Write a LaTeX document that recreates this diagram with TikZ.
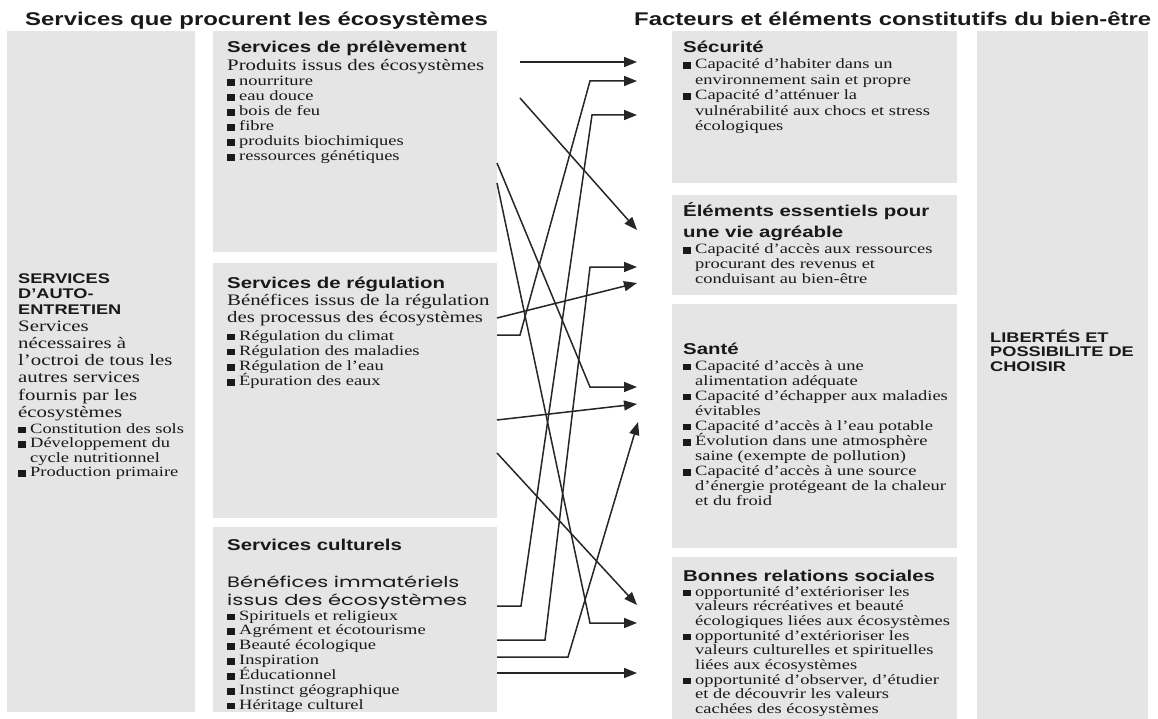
\documentclass[tikz,border=0pt]{standalone}
\usepackage{fontspec}
\setmainfont{Liberation Serif}[FakeStretch=1.3]
\newfontfamily\sansgras{Liberation Sans}[FakeStretch=1.3]
\newfontfamily\comique{Poppins}[FakeStretch=1.4]
\usetikzlibrary{arrows.meta}

\newcommand\fgrand{\sansgras\bfseries\fontsize{18.4}{20}\selectfont}
\newcommand\ftitre{\sansgras\bfseries\fontsize{15.7}{18}\selectfont}
\newcommand\fcaps{\sansgras\bfseries\fontsize{14}{16}\selectfont}
\newcommand\fintro{\fontsize{16}{18}\selectfont}
\newcommand\ftexte{\fontsize{14.2}{15}\selectfont}
\newcommand\fcomic{\comique\fontsize{15}{16}\selectfont}

\newcommand\puce{\makebox[12pt][l]{\rule{8pt}{6.5pt}}}
\newcommand\suite{\hspace*{12pt}}

\tikzset{
  boite/.style={fill=black!10, anchor=north west, inner sep=0pt},
  ligne/.style={anchor=base west, inner sep=0pt, text=black!90},
  fleche/.style={draw=black!85, line width=1.5pt, -{Triangle[length=13pt,width=10pt]}},
}

\begin{document}
\begin{tikzpicture}[x=1pt, y=-1pt]
\useasboundingbox (0,0) rectangle (1158,719);

% grey boxes
\begin{scope}[every node/.style=boite]
\node[minimum width=188pt, minimum height=681pt] (autoent) at (7,31) {};
\node[minimum width=284pt, minimum height=221pt] (prel) at (213,31) {};
\node[minimum width=284pt, minimum height=255pt] (regul) at (213,263) {};
\node[minimum width=284pt, minimum height=185pt] (cultu) at (213,527) {};
\node[minimum width=285pt, minimum height=152pt] (secur) at (672,31) {};
\node[minimum width=285pt, minimum height=100pt] (elem) at (672,195) {};
\node[minimum width=285pt, minimum height=244pt] (sante) at (672,304) {};
\node[minimum width=285pt, minimum height=162pt] (relat) at (672,557) {};
\node[minimum width=171pt, minimum height=688pt] (libert) at (977,31) {};
\end{scope}

% column titles
\node[ligne, font=\fgrand] (tgauche) at (25,26) {Services que procurent les écosystèmes};
\node[ligne, font=\fgrand] (tdroite) at (634,26) {Facteurs et éléments constitutifs du bien-être};

% services d'auto-entretien
\foreach \txt [count=\i from 0] in {SERVICES, D’AUTO-, ENTRETIEN}
  \node[ligne, font=\fcaps] (autoent-t\i) at (18, 283+15.5*\i) {\txt};
\foreach \txt [count=\i from 0] in {Services, nécessaires à, l’octroi de tous les,
    autres services, fournis par les, écosystèmes}
  \node[ligne, font=\fintro] (autoent-i\i) at (18, 331+17.3*\i) {\txt};
\foreach \txt [count=\i from 0] in {\puce Constitution des sols, \puce Développement du,
    \suite cycle nutritionnel, \puce Production primaire}
  \node[ligne, font=\ftexte] (autoent-l\i) at (18, 433+14.6*\i) {\txt};

% services de prelevement
\node[ligne, font=\ftitre] (prel-t) at (227,53) {Services de prélèvement};
\node[ligne, font=\fintro] (prel-i) at (227,71) {Produits issus des écosystèmes};
\foreach \txt [count=\i from 0] in {nourriture, eau douce, bois de feu, fibre,
    produits biochimiques, ressources génétiques}
  \node[ligne, font=\ftexte] (prel-l\i) at (227, 86+15*\i) {\puce\txt};

% services de regulation
\node[ligne, font=\ftitre] (regul-t) at (227,288) {Services de régulation};
\foreach \txt [count=\i from 0] in {Bénéfices issus de la régulation, des processus des écosystèmes}
  \node[ligne, font=\fintro] (regul-i\i) at (227, 305+17.7*\i) {\txt};
\foreach \txt [count=\i from 0] in {Régulation du climat, Régulation des maladies,
    Régulation de l’eau, Épuration des eaux}
  \node[ligne, font=\ftexte] (regul-l\i) at (227, 340+15.3*\i) {\puce\txt};

% services culturels
\node[ligne, font=\ftitre] (cultu-t) at (227,550) {Services culturels};
\foreach \txt [count=\i from 0] in {Bénéfices immatériels, issus des écosystèmes}
  \node[ligne, font=\fcomic] (cultu-i\i) at (227, 587+18*\i) {\txt};
\foreach \txt [count=\i from 0] in {Spirituels et religieux, Agrément et écotourisme,
    Beauté écologique, Inspiration, Éducationnel, Instinct géographique, Héritage culturel}
  \node[ligne, font=\ftexte] (cultu-l\i) at (227, 620+14.9*\i) {\puce\txt};

% securite
\node[ligne, font=\ftitre] (secur-t) at (683,53) {Sécurité};
\foreach \txt [count=\i from 0] in {\puce Capacité d’habiter dans un,
    \suite environnement sain et propre, \puce Capacité d’atténuer la,
    \suite vulnérabilité aux chocs et stress, \suite écologiques}
  \node[ligne, font=\ftexte] (secur-l\i) at (683, 69+15.5*\i) {\txt};

% elements essentiels
\foreach \txt [count=\i from 0] in {Éléments essentiels pour, une vie agréable}
  \node[ligne, font=\ftitre] (elem-t\i) at (683, 217+20*\i) {\txt};
\foreach \txt [count=\i from 0] in {\puce Capacité d’accès aux ressources,
    \suite procurant des revenus et, \suite conduisant au bien-être}
  \node[ligne, font=\ftexte] (elem-l\i) at (683, 254+14.6*\i) {\txt};

% sante
\node[ligne, font=\ftitre] (sante-t) at (683,354) {Santé};
\foreach \txt [count=\i from 0] in {\puce Capacité d’accès à une,
    \suite alimentation adéquate, \puce Capacité d’échapper aux maladies,
    \suite évitables, \puce Capacité d’accès à l’eau potable,
    \puce Évolution dans une atmosphère, \suite saine (exempte de pollution),
    \puce Capacité d’accès à une source, \suite d’énergie protégeant de la chaleur,
    \suite et du froid}
  \node[ligne, font=\ftexte] (sante-l\i) at (683, 370+15.1*\i) {\txt};

% bonnes relations sociales
\node[ligne, font=\ftitre] (relat-t) at (683,581) {Bonnes relations sociales};
\foreach \txt [count=\i from 0] in {\puce opportunité d’extérioriser les,
    \suite valeurs récréatives et beauté, \suite écologiques liées aux écosystèmes,
    \puce opportunité d’extérioriser les, \suite valeurs culturelles et spirituelles,
    \suite liées aux écosystèmes, {\puce opportunité d’observer, d’étudier},
    \suite et de découvrir les valeurs, \suite cachées des écosystèmes}
  \node[ligne, font=\ftexte] (relat-l\i) at (683, 596+14.7*\i) {\txt};

% libertes
\foreach \txt [count=\i from 0] in {LIBERTÉS ET, POSSIBILITE DE, CHOISIR}
  \node[ligne, font=\fcaps] (libert-t\i) at (990, 342+14.6*\i) {\txt};

% arrow ends
\coordinate (p1) at (520,62);  \coordinate (p2) at (520,98);
\coordinate (p3) at (497,163); \coordinate (p4) at (497,183);
\coordinate (r1) at (497,318); \coordinate (r2) at (497,335);
\coordinate (r3) at (497,420); \coordinate (r4) at (497,453);
\coordinate (c1) at (497,606); \coordinate (c2) at (497,640);
\coordinate (c3) at (497,657); \coordinate (c4) at (497,673);
\coordinate (s1) at (637,62);  \coordinate (s2) at (637,81);  \coordinate (s3) at (637,115);
\coordinate (e1) at (637,230); \coordinate (e2) at (637,267); \coordinate (e3) at (637,283);
\coordinate (h1) at (637,387); \coordinate (h2) at (637,404); \coordinate (h3) at (638,422);
\coordinate (b1) at (637,605); \coordinate (b2) at (637,623); \coordinate (b3) at (637,673);

% arrows
\begin{scope}[every path/.style=fleche]
\draw (p1) -- (s1);
\draw (r2) -- ++(23,0) -- ([xshift=-47pt]s2) -- (s2);
\draw (c1) -- ++(24,0) -- ([xshift=-45pt]s3) -- (s3);
\draw (p2) -- (e1);
\draw (c2) -- ++(48,0) -- ([xshift=-47pt]e2) -- (e2);
\draw (r1) -- (e3);
\draw (p3) -- ([xshift=-47pt]h1) -- (h1);
\draw (r3) -- (h2);
\draw (c3) -- ++(71,0) -- (h3);
\draw (r4) -- (b1);
\draw (p4) -- ([xshift=-47pt]b2) -- (b2);
\draw (c4) -- (b3);
\end{scope}
\end{tikzpicture}
\end{document}
